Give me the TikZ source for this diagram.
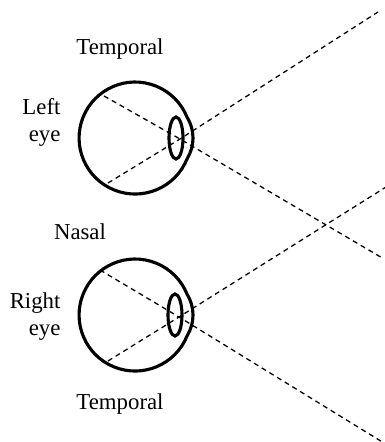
\documentclass[tikz,border=0pt]{standalone}
\usepackage{fontspec}
\setmainfont{Liberation Serif}

\begin{document}
\begin{tikzpicture}[x=1pt, y=-1pt, font=\fontsize{22.8}{27}\selectfont]
	\useasboundingbox (0, 0) rectangle (385, 442);

	\begin{scope}[shift={(0, 0)}]
		\node (T1) at (120, 49) {Temporal};
		\node[align=right, anchor=east] (L) at (64, 122) {Left\\eye};

		% Eyeball with the cornea bulging to the right, and the lens
		\draw[line width=1.1mm] (187, 159) arc[start angle=22, end angle=338, radius=56] .. controls (195, 130) and (195, 146) .. cycle;
		\draw[line width=1.1mm] (176, 138) ellipse [x radius=7, y radius=21];

		\coordinate (a1) at (104, 96);
		\coordinate (a2) at (108, 183);
		\coordinate (n1) at (180, 139);
		\coordinate (a3) at (384, 259);
		\coordinate (a4) at (378, 12);

		% Draw the rays through the nodal point
		\draw[line width=0.45mm, dash pattern=on 5pt off 4pt] (a1) -- (n1) -- (a3);
		\draw[line width=0.45mm, dash pattern=on 5pt off 4pt] (a2) -- (n1) -- (a4);
	\end{scope}

	\node (N) at (80, 232) {Nasal};

	\begin{scope}[shift={(0, 177)}]
		\node[align=right, anchor=east] (R) at (64, 140) {Right\\eye};
		\node (T2) at (120, 227) {Temporal};

		% Eyeball with the cornea bulging to the right, and the lens
		\draw[line width=1.1mm] (187, 159) arc[start angle=22, end angle=338, radius=56] .. controls (195, 130) and (195, 146) .. cycle;
		\draw[line width=1.1mm] (175, 138) ellipse [x radius=7, y radius=21];

		\coordinate (b1) at (100, 93);
		\coordinate (b2) at (108, 184);
		\coordinate (n2) at (179, 140);
		\coordinate (b3) at (384, 266);
		\coordinate (b4) at (386, 10);

		% Draw the rays through the nodal point
		\draw[line width=0.45mm, dash pattern=on 5pt off 4pt] (b1) -- (n2) -- (b3);
		\draw[line width=0.45mm, dash pattern=on 5pt off 4pt] (b2) -- (n2) -- (b4);
	\end{scope}
\end{tikzpicture}
\end{document}
